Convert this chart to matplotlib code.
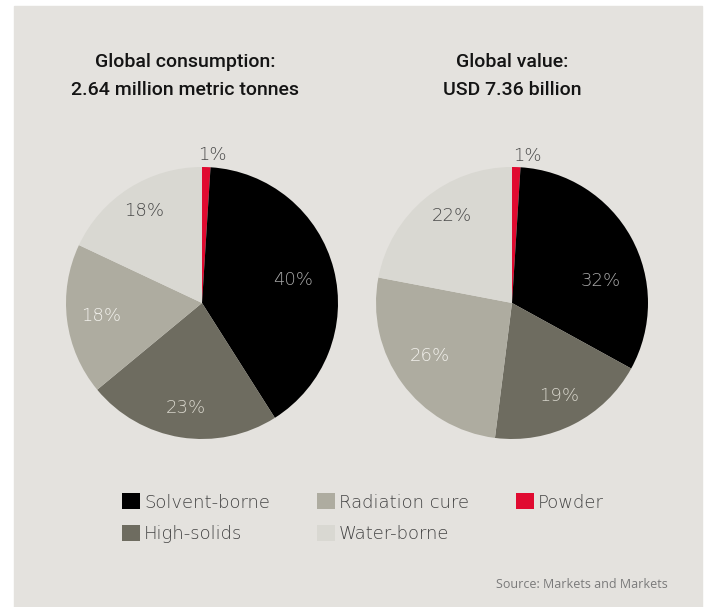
import numpy as np
import matplotlib.pyplot as plt
from matplotlib.patches import Patch

# segment shares, clockwise from 12 o'clock
segments = ['Powder', 'Solvent-borne', 'High-solids', 'Radiation cure', 'Water-borne']
consumption = [1, 40, 23, 18, 18]
value = [1, 32, 19, 26, 22]

titles = ['Global consumption:\n2.64 million metric tonnes',
          'Global value:\nUSD 7.36 billion']

colors = {'Solvent-borne': '#000000', 'High-solids': '#6e6c60',
          'Radiation cure': '#aeaca0', 'Water-borne': '#d9d8d2',
          'Powder': '#e00a30'}
label_colors = {'Solvent-borne': '#a8a8a8', 'High-solids': '#d8d6cc',
                'Radiation cure': '#f2f1ec', 'Water-borne': '#4a4a4a',
                'Powder': '#4a4a4a'}

BG = '#e4e2de'
W, H = 708, 607
THIN = dict(family='DejaVu Sans', weight='light')

fig = plt.figure(figsize=(W / 100, H / 100), dpi=100)
fig.patch.set_facecolor('white')
fig.patches.append(plt.Rectangle((14 / W, 0), 688 / W, 1 - 6 / H,
                                 transform=fig.transFigure, color=BG, zorder=-1))

# label radius and angular nudge per segment, per pie
label_r = [[1.09, 0.69, 0.78, 0.75, 0.80], [1.09, 0.67, 0.77, 0.72, 0.78]]
label_shift = [[-2, 0, 0, 0, 0], [-4, -15, 0, -3, -5]]

R = 136
for i, (cx, data) in enumerate([(202, consumption), (512, value)]):
    ax = fig.add_axes([(cx - R) / W, (H - 303 - R) / H, 2 * R / W, 2 * R / H])
    wedges, _ = ax.pie(data, colors=[colors[s] for s in segments],
                       startangle=90, counterclock=False,
                       wedgeprops=dict(linewidth=0))
    ax.set_xlim(-1, 1)
    ax.set_ylim(-1, 1)
    ax.set_aspect('equal')
    for k, w in enumerate(wedges):
        ang = np.deg2rad((w.theta1 + w.theta2) / 2 + label_shift[i][k])
        r = label_r[i][k]
        ax.text(r * np.cos(ang), r * np.sin(ang), f'{data[k]}%',
                ha='center', va='center', fontsize=13, **THIN,
                color=label_colors[segments[k]])
    fig.text((cx - 17) / W if i == 0 else cx / W, 1 - 76 / H, titles[i],
             ha='center', va='center', fontsize=14, family='Roboto',
             fontweight='medium', color='#141414', linespacing=1.75)

order = ['Solvent-borne', 'High-solids', 'Radiation cure', 'Water-borne', 'Powder']
handles = [Patch(facecolor=colors[s], edgecolor='none', label=s) for s in order]
fig.legend(handles=handles, ncol=3, loc='upper left',
           bbox_to_anchor=(106 / W, 1 - 477 / H), frameon=False,
           handlelength=1.0, handleheight=1.0, handletextpad=0.2,
           columnspacing=2.6, labelspacing=0.72,
           prop=dict(size=13, **THIN), labelcolor='#444444')

fig.text(668 / W, 1 - 585 / H, 'Source: Markets and Markets', ha='right',
         va='center', fontsize=9, family='Open Sans', color='#7a7a7a')

fig.savefig('out.png', dpi=100, facecolor=fig.get_facecolor())
